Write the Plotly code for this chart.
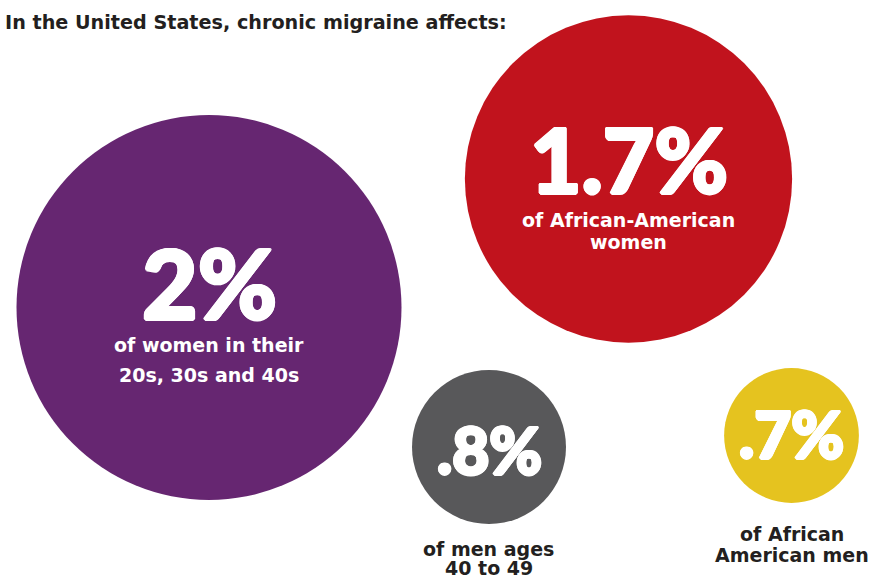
import plotly.graph_objects as go

# ---- data ----
categories = ["Women in their 20s, 30s and 40s", "African-American women",
              "Men ages 40 to 49", "African American men"]
values = [2.0, 1.7, 0.8, 0.7]                 # percent affected
value_labels = ["2%", "1.7%", ".8%", ".7%"]
description_lines = [
    ["of women in their", "20s, 30s and 40s"],
    ["of African-American", "women"],
    ["of men ages", "40 to 49"],
    ["of African", "American men"],
]
title_text = "In the United States, chronic migraine affects:"

# ---- layout / style (pixel canvas coordinates) ----
W, H = 870, 577
center_x = [209, 628.5, 489, 791.5]
center_y = [307.5, 179, 447, 435.5]
px_per_pct = 192.5                            # bubble diameter per percent
colors = ["#662671", "#c1131d", "#58585a", "#e5c31f"]
num_y = [281.5, 158, 449.5, 433.5]
num_size = [96, 89, 64, 64]
desc_y = [[345, 375], [220, 241.5], [548.5, 567.5], [533.5, 555]]
desc_color = ["#ffffff", "#ffffff", "#231f20", "#231f20"]
desc_size = [19, 19, 19, 19]
desc_x = [208.5, 628.5, 488.5, 791.5]
thick = ("1.5px 0 0 #fff, -1.5px 0 0 #fff, 0 1.5px 0 #fff, 0 -1.5px 0 #fff, "
         "1px 1px 0 #fff, -1px -1px 0 #fff, 1px -1px 0 #fff, -1px 1px 0 #fff")

fig = go.Figure()
fig.add_trace(go.Scatter(
    x=center_x, y=center_y, mode="markers",
    text=categories, hoverinfo="skip",
    marker=dict(size=values, sizemode="diameter", sizeref=1 / px_per_pct,
                color=colors, opacity=1, line=dict(width=0)),
))

annotations = []
for i, lab in enumerate(value_labels):
    annotations.append(dict(
        x=center_x[i], y=num_y[i], xref="x", yref="y", text=lab,
        showarrow=False, xanchor="center", yanchor="middle",
        font=dict(family="Lato", size=num_size[i], color="#ffffff", weight=900,
                  shadow=thick),
    ))
    for j, line in enumerate(description_lines[i]):
        annotations.append(dict(
            x=desc_x[i], y=desc_y[i][j], xref="x", yref="y", text=line,
            showarrow=False, xanchor="center", yanchor="middle",
            font=dict(family="DejaVu Sans", size=desc_size[i],
                      color=desc_color[i], weight=700),
        ))

annotations.append(dict(
    x=3, y=22, xref="x", yref="y", text=title_text, showarrow=False,
    xanchor="left", yanchor="middle",
    font=dict(family="DejaVu Sans", size=19.2, color="#231f20", weight=700),
))

fig.update_layout(
    width=W, height=H, autosize=False,
    margin=dict(l=0, r=0, t=0, b=0, pad=0),
    paper_bgcolor="#ffffff", plot_bgcolor="#ffffff",
    showlegend=False, hovermode=False,
    xaxis=dict(range=[0, W], visible=False, fixedrange=True),
    yaxis=dict(range=[H, 0], visible=False, fixedrange=True),
    annotations=annotations,
)

fig.write_html("out.html", config={"displayModeBar": False})
